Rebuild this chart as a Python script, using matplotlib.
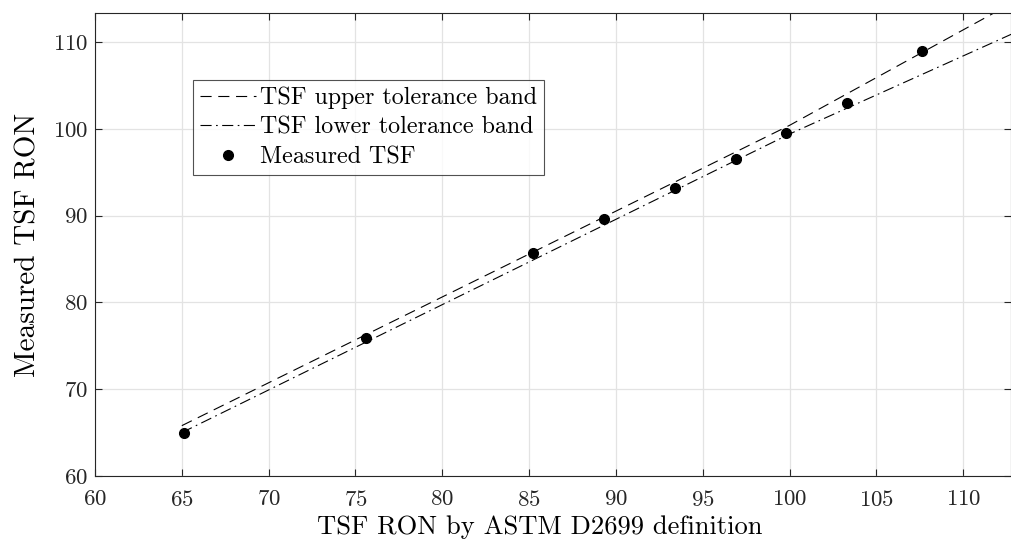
import matplotlib
matplotlib.use("Agg")
import matplotlib.pyplot as plt

plt.rcParams['font.family'] = 'serif'
plt.rcParams['font.serif'] = ['cmr10']
plt.rcParams['mathtext.fontset'] = 'cm'
plt.rcParams['axes.formatter.use_mathtext'] = True

# Data
band_x = [65, 100, 113]
upper_y = [65.8, 100.4, 114.7]
lower_y = [65.0, 99.4, 111.1]
meas_x = [65.1, 75.6, 85.2, 89.3, 93.4, 96.9, 99.8, 103.3, 107.6]
meas_y = [65.0, 75.9, 85.7, 89.6, 93.2, 96.5, 99.5, 103.0, 109.0]
xticks = [60, 65, 70, 75, 80, 85, 90, 95, 100, 105, 110]
yticks = [60, 70, 80, 90, 100, 110]

fig = plt.figure(figsize=(10.12, 5.43), dpi=100)
ax = fig.add_axes([95/1012, 67/543, (1011-95)/1012, (476-13)/543])

ax.plot(band_x, upper_y, color='black', lw=0.8, linestyle=(0, (10, 6)),
        label='TSF upper tolerance band')
ax.plot(band_x, lower_y, color='black', lw=0.8, linestyle=(0, (10, 4, 1.5, 4)),
        label='TSF lower tolerance band')
ax.plot(meas_x, meas_y, 'o', color='black', ms=7, label='Measured TSF')

ax.set_xlim(60, 112.75)
ax.set_ylim(60, 113.34)
ax.set_xticks(xticks)
ax.set_yticks(yticks)
ax.grid(True, color='#e3e3e3', lw=0.9)
ax.set_axisbelow(True)
ax.tick_params(direction='in', top=True, right=True, length=5, width=0.8,
               labelsize=16.5, colors='#262626')
ax.tick_params(axis='x', pad=10)
ax.tick_params(axis='y', pad=5)
for s in ax.spines.values():
    s.set_color('#262626')
    s.set_linewidth(0.8)

ax.set_xlabel('TSF RON by ASTM D2699 definition', fontsize=19.1)
ax.xaxis.set_label_coords((540 - 95) / 916, -(527 - 476) / 463, transform=ax.transAxes)
ax.xaxis.label.set_va('center')
ax.set_ylabel('Measured TSF RON', fontsize=21, labelpad=8)

leg = ax.legend(loc='upper left', bbox_to_anchor=(0.107, 0.855), fontsize=17.3,
                frameon=True, fancybox=False, edgecolor='#262626',
                handlelength=2.35, handletextpad=0.15, borderpad=0.28,
                labelspacing=0.3, borderaxespad=0)
leg.get_frame().set_linewidth(0.8)

fig.savefig('out.png', dpi=100)
